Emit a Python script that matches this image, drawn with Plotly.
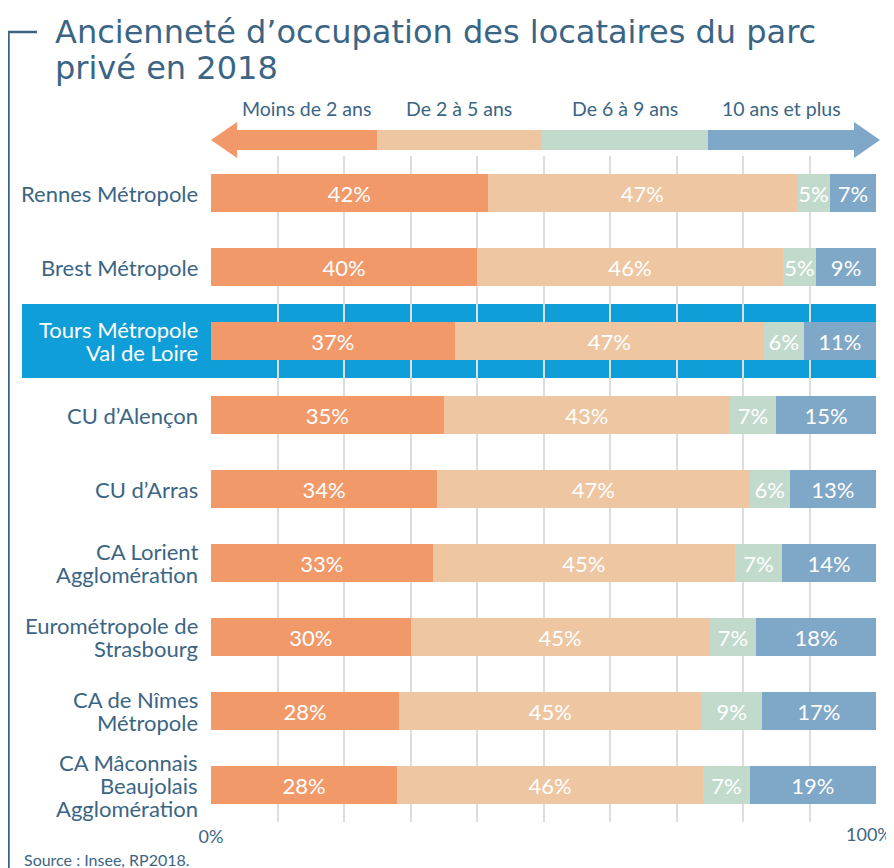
import plotly.graph_objects as go

categories = ["Rennes Métropole", "Brest Métropole", "Tours Métropole<br>Val de Loire",
              "CU d’Alençon", "CU d’Arras", "CA Lorient<br>Agglomération",
              "Eurométropole de<br>Strasbourg", "CA de Nîmes<br>Métropole",
              "CA Mâconnais<br>Beaujolais<br>Agglomération"]
moins2 = [42, 40, 37, 35, 34, 33, 30, 28, 28]
de2a5 = [47, 46, 47, 43, 47, 45, 45, 45, 46]
de6a9 = [5, 5, 6, 7, 6, 7, 7, 9, 7]
plus10 = [7, 9, 11, 15, 13, 14, 18, 17, 19]
series_names = ["Moins de 2 ans", "De 2 à 5 ans", "De 6 à 9 ans", "10 ans et plus"]
colors = ["#F2996A", "#EEC6A2", "#C2DACB", "#7FA7C7"]
x_ticks = [0, 10, 20, 30, 40, 50, 60, 70, 80, 90, 100]
highlight = 2

TXT = "#3B6584"
OFF = 8  # page body margin
W, H = 894 - OFF, 868 - OFF
PX0, PX1, PY0, PY1 = 211, 876, 156, 822
L, R, T, B = PX0 - OFF, (W + OFF) - PX1, PY0 - OFF, (H + OFF) - PY1
PW, PH = PX1 - PX0, PY1 - PY0

def px(x):
    return (x - PX0) / PW

def py(y):
    return (PY1 - y) / PH

ypos = list(range(len(categories)))
fig = go.Figure()
for name, vals, col in zip(series_names, [moins2, de2a5, de6a9, plus10], colors):
    fig.add_trace(go.Bar(
        y=ypos, x=vals, name=name, orientation="h", marker=dict(color=col, line=dict(width=0)),
        width=0.51, text=[f"{v}%" for v in vals], textposition="inside", textangle=0,
        insidetextanchor="middle", constraintext="none",
        textfont=dict(color="white", size=22, family="Lato"), showlegend=False,
        hoverinfo="skip"))

shapes = []
shapes.append(dict(type="rect", xref="paper", yref="y", x0=px(22), x1=1.0,
                   y0=highlight - 0.5, y1=highlight + 0.5, fillcolor="#0F9ED8",
                   line=dict(width=0), layer="below"))
shapes.append(dict(type="path", xref="paper", yref="paper",
                   path=f"M {px(37)},{py(32)} L {px(8.5)},{py(32)} L {px(8.5)},{py(880)}",
                   line=dict(color=TXT, width=2.5)))
seg = [236, 377, 541, 708, 855]
yt, yb = py(130), py(150)
for i, col in enumerate(colors):
    shapes.append(dict(type="rect", xref="paper", yref="paper", x0=px(seg[i]), x1=px(seg[i + 1]),
                       y0=yb, y1=yt, fillcolor=col, line=dict(width=0)))
shapes.append(dict(type="path", xref="paper", yref="paper",
                   path=f"M {px(211)},{py(140)} L {px(237)},{py(122)} L {px(237)},{py(158)} Z",
                   fillcolor=colors[0], line=dict(width=0)))
shapes.append(dict(type="path", xref="paper", yref="paper",
                   path=f"M {px(880)},{py(140)} L {px(854)},{py(122)} L {px(854)},{py(158)} Z",
                   fillcolor=colors[3], line=dict(width=0)))

annotations = []
for i, name in enumerate(series_names):
    cx = (seg[i] + seg[i + 1]) / 2
    annotations.append(dict(text=name, xref="paper", yref="paper", x=px(cx), y=py(109),
                            showarrow=False, xanchor="center", yanchor="middle",
                            font=dict(family="Lato", size=19.5, color=TXT)))
title_lines = ["Ancienneté d’occupation des locataires du parc", "privé en 2018"]
for i, t in enumerate(title_lines):
    annotations.append(dict(text=t, xref="paper", yref="paper", x=px(53), y=py(32 + 36 * i),
                            xanchor="left", yanchor="middle", showarrow=False,
                            font=dict(family="DejaVu Sans", size=32, color=TXT)))
annotations.append(dict(text="Source : Insee, RP2018.", xref="paper", yref="paper",
                        x=px(22), y=py(859), xanchor="left", yanchor="middle", showarrow=False,
                        font=dict(family="Lato", size=16, color=TXT)))
# right end tick label, kept inside the page like the reference
annotations.append(dict(text=f"{x_ticks[-1]}%", xref="paper", yref="paper", x=px(894),
                        y=py(834), xanchor="right", yanchor="middle", showarrow=False,
                        font=dict(family="Lato", size=18, color=TXT)))
LEAD = 23
for i, c in enumerate(categories):
    lines = c.split("<br>")
    n = len(lines)
    for j, ln in enumerate(lines):
        annotations.append(dict(text=ln, xref="paper", yref="y", x=px(200), y=i,
                                yshift=((n - 1) / 2 - j) * LEAD, xanchor="right",
                                yanchor="middle", showarrow=False,
                                font=dict(family="Lato", size=22,
                                          color="white" if i == highlight else TXT)))

fig.update_layout(
    width=W, height=H, margin=dict(l=L, r=R, t=T, b=B, autoexpand=False),
    barmode="stack", barnorm="percent",
    plot_bgcolor="white", paper_bgcolor="white",
    uniformtext=dict(minsize=22, mode="show"),
    font=dict(family="Lato", color=TXT),
    xaxis=dict(range=[0, 100], tickvals=x_ticks,
               ticktext=[f"{x_ticks[0]}%"] + [""] * (len(x_ticks) - 1),
               showgrid=True, gridcolor="#DDDDDD",
               gridwidth=1.5, zeroline=False, showline=False, ticks="", automargin=False,
               ticklabeloverflow="allow", ticklabelstandoff=2,
               tickfont=dict(size=18, color=TXT), fixedrange=True),
    yaxis=dict(tickvals=ypos, ticktext=[""] * len(ypos), range=[len(ypos) - 0.5, -0.5],
               showgrid=False, zeroline=False, showline=False, ticks="", automargin=False),
    shapes=shapes, annotations=annotations)

fig.write_html("out.html")
